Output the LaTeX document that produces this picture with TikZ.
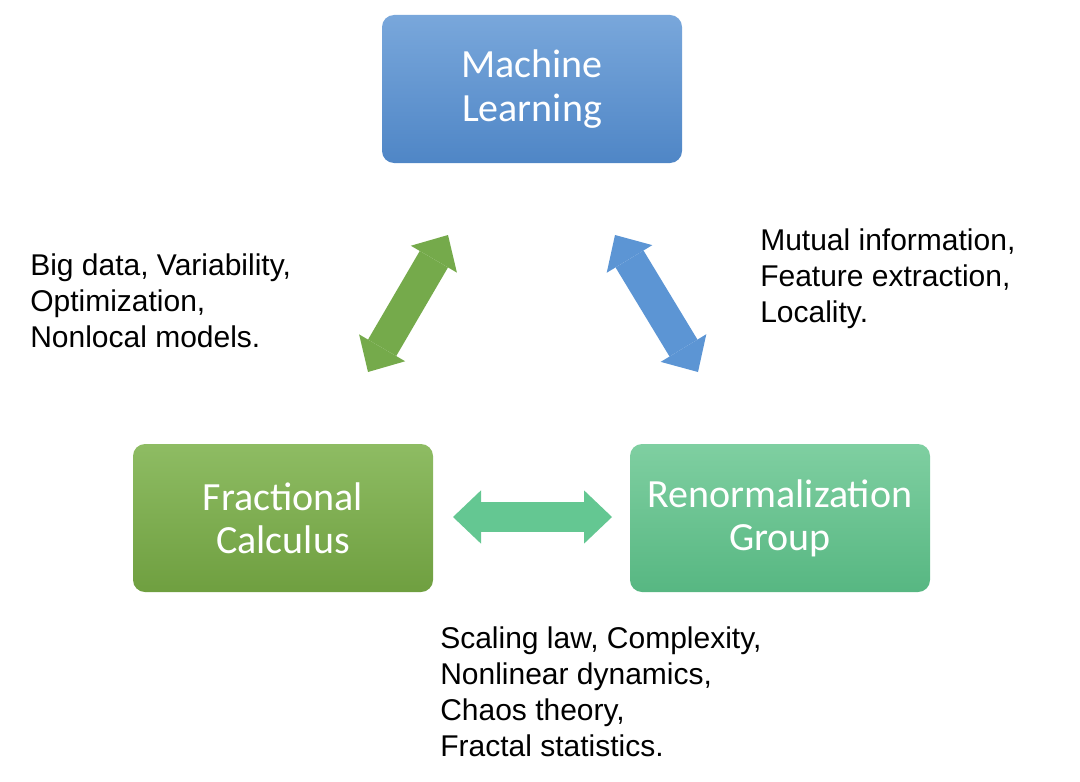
\documentclass[tikz,border=0pt]{standalone}
\usepackage{fontspec}
\setmainfont{Liberation Sans}
\newfontfamily\boxfont{Carlito}
\usepackage{tikz}
\usetikzlibrary{arrows.meta,positioning}
\definecolor{mltop}{RGB}{121,167,219}
\definecolor{mlbot}{RGB}{79,134,198}
\definecolor{fctop}{RGB}{142,188,99}
\definecolor{fcbot}{RGB}{111,159,64}
\definecolor{rgtop}{RGB}{127,207,161}
\definecolor{rgbot}{RGB}{87,183,130}
\definecolor{arrgreen}{RGB}{117,170,75}
\definecolor{arrblue}{RGB}{92,149,212}
\definecolor{arrmint}{RGB}{100,199,146}

\begin{document}
\begin{tikzpicture}[
    x=0.75pt, y=-0.75pt,
    topic/.style={rectangle, rounded corners=9pt, minimum width=225pt, minimum height=111pt, inner sep=0pt, align=center, text=white, font=\boxfont\fontsize{30}{32.5}\selectfont},
    notes/.style={anchor=west, inner sep=0pt, align=left, font=\fontsize{22.5}{27}\selectfont},
    link/.style={line width=24.5pt, {Triangle[length=21pt,width=40pt,line width=0pt]}-{Triangle[length=21pt,width=40pt,line width=0pt]}}
]
\useasboundingbox (0,0) rectangle (1080,781);

% Main topics
\node[topic, top color=mltop, bottom color=mlbot] (ml) at (532,89) {Machine\\Learning};
\node[topic, top color=fctop, bottom color=fcbot] (fc) at (283,518) {Fractional\\Calculus};
\node[topic, top color=rgtop, bottom color=rgbot] (rg) at (780,518) {Renormalization\\Group};

% Arrow ends
\coordinate (gb) at (368,372);
\coordinate (gt) at (448,235);
\coordinate (bt) at (615,235);
\coordinate (bb) at (698,372);
\coordinate (hl) at (453,517);
\coordinate (hr) at (612,517);

% Links
\draw[link, arrgreen] (gb) -- (gt);
\draw[link, arrblue] (bt) -- (bb);
\draw[link, arrmint, line width=23pt] (hl) -- (hr);

% Notes
\node[notes] (nfc) at (30,301) {Big data, Variability,\\Optimization,\\Nonlocal models.};
\node[notes] (nrg) at (760,279) {Mutual information,\\Feature extraction,\\Locality.};
\node[notes] (nbot) at (440,692) {Scaling law, Complexity,\\Nonlinear dynamics,\\Chaos theory,\\Fractal statistics.};

\end{tikzpicture}
\end{document}
